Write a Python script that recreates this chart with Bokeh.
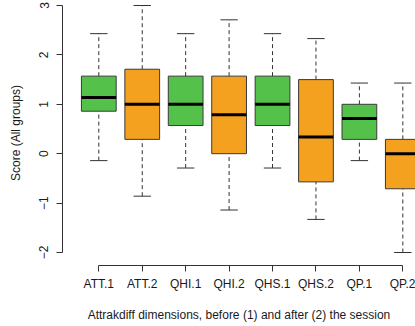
from bokeh.plotting import figure
from bokeh.models import FixedTicker, Range1d, ColumnDataSource
from bokeh.embed import file_html
from bokeh.resources import INLINE

categories = ["ATT.1", "ATT.2", "QHI.1", "QHI.2", "QHS.1", "QHS.2", "QP.1", "QP.2"]
whisker_lo = [-0.14, -0.86, -0.29, -1.14, -0.29, -1.33, -0.14, -2.0]
q1 = [0.86, 0.29, 0.57, 0.0, 0.57, -0.57, 0.29, -0.71]
median = [1.14, 1.0, 1.0, 0.79, 1.0, 0.34, 0.71, 0.0]
q3 = [1.57, 1.71, 1.57, 1.57, 1.57, 1.5, 1.0, 0.29]
whisker_hi = [2.43, 3.0, 2.43, 2.71, 2.43, 2.33, 1.43, 1.43]
colors = ["#54C24A", "#F4A11F"] * 4
y_ticks = [-2, -1, 0, 1, 2, 3]

xs = list(range(1, len(categories) + 1))
src = ColumnDataSource(dict(
    x=xs, lo=whisker_lo, q1=q1, med=median, q3=q3, hi=whisker_hi, color=colors,
    xl=[v - 0.4 for v in xs], xr=[v + 0.4 for v in xs],
    cl=[v - 0.2 for v in xs], cr=[v + 0.2 for v in xs],
))

p = figure(width=415, height=326, output_backend="svg", toolbar_location=None,
           x_range=Range1d(0.164, 8.292), y_range=Range1d(-2.263, 3.101),
           min_border_left=62, min_border_right=0, min_border_top=0, min_border_bottom=61)
p.outline_line_color = None
p.grid.visible = False
p.background_fill_color = "white"
p.border_fill_color = "white"

# whiskers
p.segment(x0="x", y0="q3", x1="x", y1="hi", source=src, line_color="#333333", line_dash="4 3", line_width=1)
p.segment(x0="x", y0="lo", x1="x", y1="q1", source=src, line_color="#333333", line_dash="4 3", line_width=1)
# caps
p.segment(x0="cl", y0="hi", x1="cr", y1="hi", source=src, line_color="#333333", line_width=1)
p.segment(x0="cl", y0="lo", x1="cr", y1="lo", source=src, line_color="#333333", line_width=1)
# boxes
p.vbar(x="x", width=0.8, bottom="q1", top="q3", source=src, fill_color="color", line_color="#3a3a3a", line_width=1)
# medians
p.segment(x0="xl", y0="med", x1="xr", y1="med", source=src, line_color="black", line_width=3)

xa = p.xaxis[0]
xa.ticker = FixedTicker(ticks=xs)
xa.major_label_overrides = {x: c for x, c in zip(xs, categories)}
xa.bounds = (1, len(categories))
xa.axis_label = "Attrakdiff dimensions, before (1) and after (2) the session"

ya = p.yaxis[0]
ya.ticker = FixedTicker(ticks=y_ticks)
ya.bounds = (-2, 3)
ya.major_label_orientation = "vertical"
ya.axis_label = "Score (All groups)"

for ax in (xa, ya):
    ax.minor_tick_line_color = None
    ax.major_tick_out = 6
    ax.major_tick_in = 0
    ax.axis_line_color = "#333333"
    ax.major_tick_line_color = "#333333"
    ax.major_label_text_font = "Liberation Sans"
    ax.major_label_text_font_size = "12px"
    ax.major_label_text_color = "#1a1a1a"
    ax.axis_label_text_font = "Liberation Sans"
    ax.axis_label_text_font_size = "12px"
    ax.axis_label_text_font_style = "normal"
    ax.axis_label_text_color = "#1a1a1a"

xa.major_label_standoff = 5
xa.axis_label_standoff = 14
ya.major_label_standoff = 8
ya.axis_label_standoff = 14

open("out.html", "w").write(file_html(p, INLINE))
